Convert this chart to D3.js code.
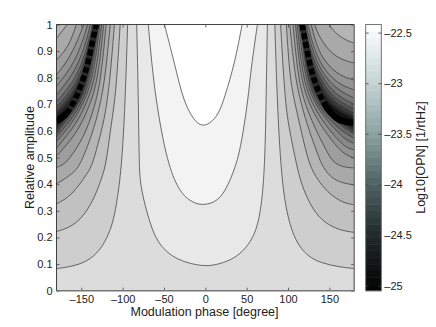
<!DOCTYPE html>
<html>
<head>
<meta charset="utf-8">
<script src="https://cdn.jsdelivr.net/npm/d3@7"></script>
<style>
html, body { margin: 0; padding: 0; background: #fff; }
text { font-family: "Liberation Sans", sans-serif; fill: #222; }
</style>
</head>
<body>
<script>
// contour lines, as [phase in degree, relative amplitude]
// lower lines on the left side, top edge to left edge
var leftLines = [
	[[-94,1],[-97,.7],[-101,.476],[-106,.351],[-111,.263],[-119,.194],[-131,.138],[-147,.103],[-167,.088],[-180,.083]],
	[[-103,1],[-107,.8],[-110,.7],[-115,.6],[-120,.476],[-125,.426],[-133,.357],[-145,.288],[-161,.24],[-180,.222]],
	[[-110,1],[-115,.8],[-121,.66],[-127,.585],[-136,.476],[-143,.439],[-153,.395],[-165,.351],[-180,.326]],
	[[-115,1],[-121,.8],[-128,.686],[-137,.585],[-151,.476],[-157,.451],[-167,.426],[-180,.401]],
	[[-120,1],[-126,.8],[-134,.686],[-146,.585],[-157,.529],[-169,.476],[-180,.463]],
	[[-123,1],[-129.5,.8],[-139,.7],[-154,.6],[-168,.547],[-180,.506]],
	[[-125.5,1],[-132.5,.8],[-144,.7],[-157,.623],[-172,.566],[-180,.535]],
	[[-127.5,1],[-135.5,.8],[-147.5,.7],[-163,.623],[-173,.585],[-180,.56]],
	[[-129,1],[-138,.8],[-150,.7],[-163,.641],[-173,.604],[-180,.575]],
	[[-130,1],[-140,.8],[-152.5,.7],[-166,.649],[-174,.615],[-180,.589]],
	[[-130.5,1],[-141.5,.8],[-153.5,.7],[-166,.66],[-174,.626],[-180,.6]],
	[[-131,1],[-143,.8],[-155,.7],[-166,.668],[-175,.634],[-180,.61]],
	[[-131.5,1],[-144,.8],[-156,.7],[-166,.675],[-175,.64],[-180,.619]]
];
// same levels on the right side, top edge to right edge
var rightLines = [
	[[84,1],[87,.7],[91,.476],[96,.326],[106,.2],[122,.131],[140,.104],[160.5,.09],[180,.083]],
	[[91,1],[96.5,.7],[102,.6],[110,.476],[116,.401],[126,.326],[140,.263],[160.5,.228],[180,.219]],
	[[98,1],[102,.8],[108.5,.7],[116,.6],[125,.476],[136,.413],[152,.357],[168.5,.328],[180,.323]],
	[[102,1],[108.5,.8],[116,.7],[125.5,.6],[134,.529],[140,.476],[150.5,.426],[166.5,.403],[180,.398]],
	[[106,1],[112,.8],[120.5,.7],[134,.6],[146,.529],[154,.482],[166.5,.464],[180,.461]],
	[[109,1],[115,.8],[125.5,.7],[139,.623],[157,.547],[169,.51],[180,.499]],
	[[111,1],[117.5,.8],[129,.7],[145,.623],[160.5,.566],[171,.536],[180,.529]],
	[[113,1],[120,.8],[132.5,.7],[147,.641],[163,.585],[172.5,.562],[180,.554]],
	[[115,1],[122,.8],[135,.7],[148.5,.649],[164,.6],[180,.573]],
	[[116,1],[123,.8],[137.5,.7],[152,.653],[166.5,.615],[180,.588]],
	[[116.5,1],[124,.8],[140,.7],[154.5,.656],[169,.619],[180,.597]],
	[[116.5,1],[125.5,.8],[141,.7],[155.5,.66],[169,.626],[180,.606]],
	[[117,1],[126.5,.8],[142.5,.705],[157,.664],[169,.632],[180,.614]]
];
// upper corners, above the dark valley
var leftCorner = [
	[[-180,.948],[-173,.976],[-167,1]],
	[[-180,.867],[-165,.917],[-156,1]],
	[[-180,.81],[-163,.879],[-151,.967],[-147,1]],
	[[-180,.769],[-161,.842],[-149,.929],[-142.5,1]],
	[[-180,.735],[-159,.817],[-147,.904],[-139,1]],
	[[-180,.71],[-157,.792],[-145,.892],[-136.5,1]],
	[[-180,.69],[-156,.773],[-144,.882],[-135,1]],
	[[-180,.675],[-157,.75],[-143,.867],[-134,1]],
	[[-180,.664],[-160,.724],[-143,.852],[-133,1]],
	[[-180,.655],[-161,.705],[-144,.837],[-132.5,1]]
];
var rightCorner = [
	[[149.5,1],[157,.968],[169,.942],[180,.93]],
	[[132,1],[138.5,.949],[150.5,.897],[165,.867],[180,.855]],
	[[128,1],[135,.912],[147,.849],[163,.807],[180,.791]],
	[[124,1],[131.5,.904],[145,.822],[163,.773],[180,.754]],
	[[122,1],[129,.904],[141,.818],[159,.755],[180,.724]],
	[[120.5,1],[126.5,.904],[139,.811],[157,.735],[180,.701]],
	[[119.5,1],[125.5,.904],[136,.811],[153,.724],[180,.683]],
	[[118.5,1],[124,.904],[134,.811],[151,.713],[180,.667]],
	[[118,1],[123,.904],[133,.807],[148.5,.702],[180,.656]],
	[[117.5,1],[122.5,.904],[131.5,.803],[147,.698],[180,.647]]
];
// the three lines round the bright middle
var middleLines = [
	[[-83,1],[-81,.716],[-80,.479],[-79,.401],[-70.5,.288],[-58.5,.175],[-34.5,.113],[-2.5,.09],[15.5,.098],[39.5,.125],[60,.2],[68,.313],[72,.476],[73.5,.716],[75,1]],
	[[-69,1],[-64.5,.842],[-58.5,.691],[-47.5,.502],[-34.5,.388],[-20.5,.338],[-4,.318],[15.5,.335],[27.5,.394],[39.5,.49],[46,.6],[51.5,.716],[55.5,.842],[63,1]],
	[[-49.4,1],[-42.5,.917],[-34.5,.817],[-26.5,.716],[-14.5,.64],[-1.5,.61],[15.5,.655],[23.5,.729],[35.5,.854],[44.5,1]]
];
// bottom of the dark valley on both sides
var leftValley = [[-168,.665],[-160,.7],[-150,.77],[-143,.84],[-139,.9],[-134,.97],[-132,1]];
var rightValley = [[117,1],[123,.9],[128.5,.82],[136,.75],[146,.69]];
// where the valley is solid black, next to the edges
var leftEdgeValley = [[-180,.637],[-174,.648],[-168,.665]];
var rightEdgeValley = [[146,.69],[158,.645],[170,.632],[180,.632]];
// fill above each line
var sideGrays = ["#dcdcdc","#cecece","#c1c1c1","#b5b5b5","#a9a9a9","#9e9e9e","#939393","#888888","#7a7a7a","#676767","#525252","#3a3a3a","#252525"];
var middleGrays = ["#e8e8e8","#f3f3f3","#ffffff"];
var valleyGray = "#141414";
var cornerOffset = 3; // first corner line has the level of leftLines[3]

var phaseTicks = [-150,-100,-50,0,50,100,150];
var ampTicks = [0,.1,.2,.3,.4,.5,.6,.7,.8,.9,1];
var barTicks = [-22.5,-23,-23.5,-24,-24.5,-25];
var barDomain = [-25.05,-22.42];
var barStops = [-25.05,-24.5,-24,-23.5,-23,-22.42];
var barColors = ["#020303","#212929","#4f6161","#8ca2a2","#c5d3d3","#ffffff"];
var barBands = 40;

var W = 436, H = 327;
var box = {left: 56.5, right: 354.2, top: 24.5, bottom: 290.7};
var bar = {left: 365.7, right: 381.3};

var x = d3.scaleLinear().domain([-180,180]).range([box.left, box.right]);
var y = d3.scaleLinear().domain([0,1]).range([box.bottom, box.top]);
var yBar = d3.scaleLinear().domain(barDomain).range([box.bottom, box.top]);
var barColor = d3.scaleLinear().domain(barStops).range(barColors);

var dash = function(s) { return String(s).replace("-", "\u2013"); };
var line = d3.line().x(function(d) { return x(d[0]); }).y(function(d) { return y(d[1]); }).curve(d3.curveBasis);
var join = function(a, b) { return line(a) + "L" + line(b).slice(1); };

var svg = d3.select("body").append("svg").attr("width", W).attr("height", H).style("display", "block");
svg.append("clipPath").attr("id", "box").append("rect")
	.attr("x", box.left).attr("y", box.top)
	.attr("width", box.right - box.left).attr("height", box.bottom - box.top);
svg.append("filter").attr("id", "soft").append("feGaussianBlur").attr("stdDeviation", 0.7);

var plot = svg.append("g").attr("clip-path", "url(#box)");
plot.append("rect").attr("x", box.left).attr("y", box.top)
	.attr("width", box.right - box.left).attr("height", box.bottom - box.top)
	.attr("fill", valleyGray);

// darkest level first, brighter ones paint over it
for (var k = leftLines.length - 1; k >= 0; k--) {
	var down = leftLines[k].slice().reverse();
	plot.append("path")
		.attr("d", join(down, rightLines[k]) + "L" + x(180) + "," + y(0) + "L" + x(-180) + "," + y(0) + "Z")
		.attr("fill", sideGrays[k]);
	var c = k - cornerOffset;
	if (c >= 0 && c < leftCorner.length) {
		plot.append("path").attr("fill", sideGrays[k])
			.attr("d", line(leftCorner[c]) + "L" + x(-180) + "," + y(1) + "Z");
		plot.append("path").attr("fill", sideGrays[k])
			.attr("d", line(rightCorner[c]) + "L" + x(180) + "," + y(1) + "Z");
	}
}
middleLines.forEach(function(m, i) {
	plot.append("path").attr("d", line(m) + "Z").attr("fill", middleGrays[i]);
});

var allLines = leftLines.concat(rightLines, leftCorner, rightCorner, middleLines);
plot.selectAll("path.level").data(allLines).enter().append("path")
	.attr("class", "level")
	.attr("d", line)
	.attr("fill", "none")
	.attr("stroke", "#333")
	.attr("stroke-width", 0.7);

// blotchy black along the valley, over a dark gray underlay
var soft = plot.append("g").attr("filter", "url(#soft)").attr("fill", "none");
soft.selectAll("path.under").data([leftValley, rightValley]).enter().append("path")
	.attr("class", "under")
	.attr("d", line)
	.attr("stroke", "#2c2c2c")
	.attr("stroke-width", 6);
soft.selectAll("path.valley").data([leftValley, rightValley]).enter().append("path")
	.attr("class", "valley")
	.attr("d", line)
	.attr("stroke", "#000")
	.attr("stroke-width", 5.5)
	.attr("stroke-dasharray", "6 3");
soft.selectAll("path.edgeValley").data([leftEdgeValley, rightEdgeValley]).enter().append("path")
	.attr("class", "edgeValley")
	.attr("d", line)
	.attr("stroke", "#000")
	.attr("stroke-width", 6.5);

// axes
var style = function(g, size) {
	g.selectAll("path.domain").remove();
	g.selectAll("line").attr("stroke", "#444").attr("stroke-width", 0.8);
	g.selectAll("text").style("font-size", size + "px").attr("fill", "#222");
};
svg.append("g").attr("transform", "translate(0," + box.bottom + ")")
	.call(d3.axisBottom(x).tickValues(phaseTicks).tickSize(-3).tickPadding(5).tickFormat(dash))
	.call(style, 11);
svg.append("g").attr("transform", "translate(0," + box.top + ")")
	.call(d3.axisTop(x).tickValues(phaseTicks).tickSize(-3).tickFormat(""))
	.call(style, 11);
svg.append("g").attr("transform", "translate(" + box.left + ",0)")
	.call(d3.axisLeft(y).tickValues(ampTicks).tickSize(-3).tickPadding(4).tickFormat(d3.format("")))
	.call(style, 11);
svg.append("g").attr("transform", "translate(" + box.right + ",0)")
	.call(d3.axisRight(y).tickValues(ampTicks).tickSize(-3).tickFormat(""))
	.call(style, 11);

var frame = svg.append("g").attr("fill", "none");
frame.append("path").attr("d", "M" + box.left + "," + box.bottom + "V" + box.top + "H" + box.right)
	.attr("stroke", "#333").attr("stroke-width", 0.9);
frame.append("path").attr("d", "M" + box.right + "," + box.top + "V" + box.bottom + "H" + box.left)
	.attr("stroke", "#777").attr("stroke-width", 1.4);

// colorbar
var bandH = (barDomain[1] - barDomain[0]) / barBands;
svg.append("g").selectAll("rect").data(d3.range(barBands)).enter().append("rect")
	.attr("x", bar.left)
	.attr("width", bar.right - bar.left)
	.attr("y", function(i) { return yBar(barDomain[0] + (i + 1) * bandH); })
	.attr("height", function(i) { return yBar(barDomain[0] + i * bandH) - yBar(barDomain[0] + (i + 1) * bandH) + 0.5; })
	.attr("fill", function(i) { return barColor(barDomain[0] + (i + 0.5) * bandH); });
svg.append("rect").attr("x", bar.left).attr("y", box.top)
	.attr("width", bar.right - bar.left).attr("height", box.bottom - box.top)
	.attr("fill", "none").attr("stroke", "#666").attr("stroke-width", 0.9);
svg.append("g").attr("transform", "translate(" + bar.right + ",0)")
	.call(d3.axisRight(yBar).tickValues(barTicks).tickSize(-3).tickPadding(3).tickFormat(dash))
	.call(style, 11);
svg.append("g").attr("transform", "translate(" + bar.left + ",0)")
	.call(d3.axisLeft(yBar).tickValues(barTicks).tickSize(-3).tickFormat(""))
	.call(style, 11);

// titles
svg.append("text").attr("x", 204.5).attr("y", 316).attr("text-anchor", "middle")
	.style("font-size", "12.5px").text("Modulation phase [degree]");
svg.append("text").attr("transform", "translate(34,157.5) rotate(-90)").attr("text-anchor", "middle")
	.style("font-size", "12.5px").text("Relative amplitude");
svg.append("text").attr("transform", "translate(425,157.5) rotate(-90)").attr("text-anchor", "middle")
	.style("font-size", "12.5px").text("Log10[OPN] [1/rtHz]");
</script>
</body>
</html>
